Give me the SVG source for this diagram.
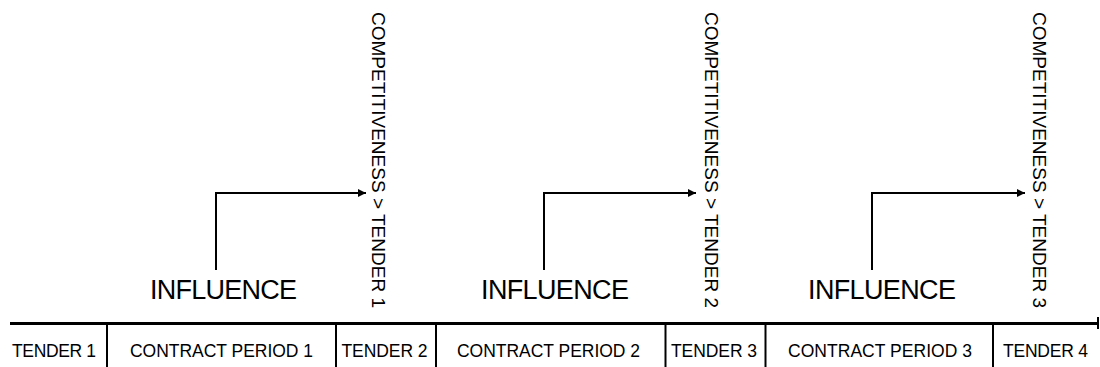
<svg xmlns="http://www.w3.org/2000/svg" width="1100" height="367" viewBox="0 0 1100 367">
<style>
text{font-family:"Liberation Sans",Arial,sans-serif;fill:#000}
.lbl{font-size:17.5px}
.inf{font-size:27px}
.comp{font-size:19px}
.ln{stroke:#000;fill:none}
</style>
<defs>
<marker id="ah" markerUnits="userSpaceOnUse" markerWidth="10" markerHeight="10" refX="8" refY="4" orient="auto">
<path d="M0,0 L8,4 L0,8 Z" fill="#000"/>
</marker>
</defs>
<rect width="1100" height="367" fill="#fff"/>
<g id="timeline">
<line class="ln" x1="10" y1="323.5" x2="1098" y2="323.5" stroke-width="3"/>
<line class="ln" x1="1098" y1="317" x2="1098" y2="329" stroke-width="2"/>
<line class="ln" x1="107" y1="323" x2="107" y2="367" stroke-width="2"/>
<line class="ln" x1="336" y1="323" x2="336" y2="367" stroke-width="2"/>
<line class="ln" x1="436" y1="323" x2="436" y2="367" stroke-width="2"/>
<line class="ln" x1="665.5" y1="323" x2="665.5" y2="367" stroke-width="2"/>
<line class="ln" x1="765.5" y1="323" x2="765.5" y2="367" stroke-width="2"/>
<line class="ln" x1="993" y1="323" x2="993" y2="367" stroke-width="2"/>
</g>
<g id="tender1"><text class="lbl" x="12" y="357" textLength="84">TENDER 1</text></g>
<g id="contract1"><text class="lbl" x="130" y="357" textLength="183">CONTRACT PERIOD 1</text></g>
<g id="tender2"><text class="lbl" x="341.5" y="357" textLength="86">TENDER 2</text></g>
<g id="contract2"><text class="lbl" x="457" y="357" textLength="183">CONTRACT PERIOD 2</text></g>
<g id="tender3"><text class="lbl" x="671" y="357" textLength="86">TENDER 3</text></g>
<g id="contract3"><text class="lbl" x="788" y="357" textLength="184">CONTRACT PERIOD 3</text></g>
<g id="tender4"><text class="lbl" x="1003" y="357" textLength="85">TENDER 4</text></g>
<g id="influence1"><text class="inf" x="150" y="298.5" textLength="147">INFLUENCE</text></g>
<g id="influence2"><text class="inf" x="481" y="298.5" textLength="148">INFLUENCE</text></g>
<g id="influence3"><text class="inf" x="808" y="298.5" textLength="148">INFLUENCE</text></g>
<g id="comp1"><text class="comp" transform="translate(372,12) rotate(90)" textLength="296">COMPETITIVENESS &gt; TENDER 1</text></g>
<g id="comp2"><text class="comp" transform="translate(705,12) rotate(90)" textLength="296">COMPETITIVENESS &gt; TENDER 2</text></g>
<g id="comp3"><text class="comp" transform="translate(1033,12) rotate(90)" textLength="296">COMPETITIVENESS &gt; TENDER 3</text></g>
<g id="connectors">
<path class="ln" stroke-width="2" d="M216,270 V193 H366" marker-end="url(#ah)"/>
<path class="ln" stroke-width="2" d="M544,270 V193 H696" marker-end="url(#ah)"/>
<path class="ln" stroke-width="2" d="M872,270 V193 H1025" marker-end="url(#ah)"/>
</g>
</svg>
